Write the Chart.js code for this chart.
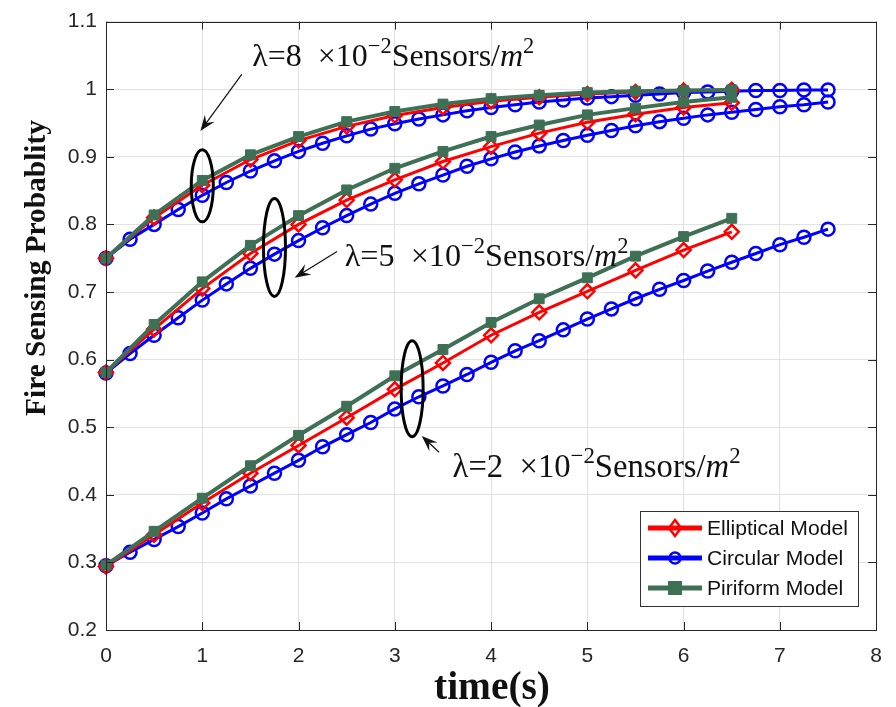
<!DOCTYPE html>
<html>
<head>
<meta charset="utf-8">
<script src="https://cdn.jsdelivr.net/npm/chart.js@4.4.0/dist/chart.umd.min.js"></script>
<style>
  body { margin: 0; background: #fff; }
  canvas { display: block; }
</style>
</head>
<body>
<canvas id="fireChart" width="896" height="707"></canvas>
<script>
// time axes
const tHalf = [0, 0.5, 1, 1.5, 2, 2.5, 3, 3.5, 4, 4.5, 5, 5.5, 6, 6.5];
const tQuarter = [0, 0.25, 0.5, 0.75, 1, 1.25, 1.5, 1.75, 2, 2.25, 2.5, 2.75, 3, 3.25, 3.5, 3.75,
  4, 4.25, 4.5, 4.75, 5, 5.25, 5.5, 5.75, 6, 6.25, 6.5, 6.75, 7, 7.25, 7.5];

// lambda = 8
const ellip8 = [0.750, 0.810, 0.858, 0.896, 0.924, 0.945, 0.961, 0.973, 0.982, 0.988, 0.993, 0.996, 0.998, 0.999];
const pir8 = [0.750, 0.814, 0.865, 0.903, 0.930, 0.952, 0.967, 0.978, 0.986, 0.991, 0.995, 0.997, 0.998, 0.999];
const circ8 = [0.750, 0.778, 0.800, 0.822, 0.843, 0.862, 0.879, 0.894, 0.908, 0.920, 0.931, 0.941, 0.949, 0.956, 0.962, 0.968,
  0.973, 0.977, 0.981, 0.984, 0.987, 0.989, 0.991, 0.993, 0.995, 0.996, 0.997, 0.998, 0.998, 0.999, 0.999];

// lambda = 5
const ellip5 = [0.581, 0.645, 0.705, 0.757, 0.800, 0.836, 0.866, 0.893, 0.915, 0.935, 0.951, 0.963, 0.973, 0.980];
const pir5 = [0.581, 0.652, 0.715, 0.769, 0.813, 0.851, 0.883, 0.908, 0.930, 0.947, 0.962, 0.972, 0.981, 0.988];
const circ5 = [0.580, 0.609, 0.636, 0.662, 0.688, 0.712, 0.735, 0.756, 0.776, 0.795, 0.813, 0.830, 0.846, 0.860, 0.873, 0.886,
  0.897, 0.907, 0.916, 0.924, 0.932, 0.939, 0.946, 0.952, 0.957, 0.962, 0.966, 0.970, 0.974, 0.977, 0.981];

// lambda = 2
const ellip2 = [0.294, 0.341, 0.388, 0.432, 0.473, 0.514, 0.556, 0.595, 0.636, 0.670, 0.701, 0.732, 0.762, 0.789];
const pir2 = [0.296, 0.346, 0.395, 0.443, 0.488, 0.531, 0.576, 0.615, 0.655, 0.690, 0.721, 0.753, 0.782, 0.809];
const circ2 = [0.295, 0.315, 0.334, 0.353, 0.373, 0.394, 0.413, 0.432, 0.451, 0.471, 0.489, 0.507, 0.527, 0.545, 0.561, 0.578,
  0.596, 0.613, 0.628, 0.644, 0.660, 0.675, 0.690, 0.704, 0.717, 0.731, 0.744, 0.757, 0.770, 0.781, 0.793];

const xTicks = [0, 1, 2, 3, 4, 5, 6, 7, 8];
const xTickLabels = ['0', '1', '2', '3', '4', '5', '6', '7', '8'];
const yTicks = [0.2, 0.3, 0.4, 0.5, 0.6, 0.7, 0.8, 0.9, 1.0, 1.1];
const yTickLabels = ['0.2', '0.3', '0.4', '0.5', '0.6', '0.7', '0.8', '0.9', '1', '1.1'];

const legendNames = ['Elliptical Model', 'Circular Model', 'Piriform Model'];
const lambdas = ['8', '5', '2'];

const RED = '#ff0000';
const BLUE = '#0000ff';
const GREEN = '#3e7056';

function pts(xs, ys) {
  return xs.map((x, i) => ({ x: x, y: ys[i] }));
}

function ellipSet(ys) {
  return {
    label: legendNames[0], data: pts(tHalf, ys), order: 1, clip: false,
    borderColor: RED, borderWidth: 3, pointStyle: 'rectRot', pointRadius: 7,
    pointBorderColor: RED, pointBorderWidth: 2.5, pointBackgroundColor: 'rgba(255,255,255,0)'
  };
}
function circSet(ys) {
  return {
    label: legendNames[1], data: pts(tQuarter, ys), order: 2, clip: false,
    borderColor: BLUE, borderWidth: 3, pointStyle: 'circle', pointRadius: 6.5,
    pointBorderColor: BLUE, pointBorderWidth: 2.5, pointBackgroundColor: 'rgba(255,255,255,0)'
  };
}
function pirSet(ys) {
  return {
    label: legendNames[2], data: pts(tHalf, ys), order: 0, clip: false,
    borderColor: GREEN, borderWidth: 4, pointStyle: 'rect', pointRadius: 7,
    pointBorderColor: GREEN, pointBorderWidth: 1, pointBackgroundColor: GREEN
  };
}

// fit a font size so that text reaches a target width
function fitSize(ctx, text, fontTpl, target) {
  ctx.font = fontTpl.replace('SIZE', 40);
  return 40 * target / ctx.measureText(text).width;
}

// lambda label with superscripts
function mathLabel(ctx, left, base, lam, targetW) {
  const parts = [
    { t: '\u03bb=' + lam + '  \u00d710', st: '', sup: false },
    { t: '\u22122', st: '', sup: true },
    { t: 'Sensors/', st: '', sup: false },
    { t: 'm', st: 'italic ', sup: false },
    { t: '2', st: '', sup: true }
  ];
  const fam = '"Liberation Serif", "DejaVu Serif", serif';
  function widthAt(s) {
    let w = 0;
    for (const p of parts) {
      ctx.font = p.st + (p.sup ? s * 0.7 : s) + 'px ' + fam;
      w += ctx.measureText(p.t).width;
    }
    return w;
  }
  const size = 24 * targetW / widthAt(24);
  let x = left;
  ctx.fillStyle = '#111';
  ctx.textAlign = 'left';
  ctx.textBaseline = 'alphabetic';
  for (const p of parts) {
    const s = p.sup ? size * 0.7 : size;
    ctx.font = p.st + s + 'px ' + fam;
    ctx.fillText(p.t, x, p.sup ? base - size * 0.4 : base);
    x += ctx.measureText(p.t).width;
  }
}

function arrow(ctx, x1, y1, x2, y2) {
  const ang = Math.atan2(y2 - y1, x2 - x1);
  const L = 16, W = 6;
  ctx.strokeStyle = '#111';
  ctx.lineWidth = 1.2;
  ctx.beginPath();
  ctx.moveTo(x1, y1);
  ctx.lineTo(x2 - Math.cos(ang) * 8, y2 - Math.sin(ang) * 8);
  ctx.stroke();
  ctx.fillStyle = '#111';
  ctx.beginPath();
  ctx.moveTo(x2, y2);
  ctx.lineTo(x2 - L * Math.cos(ang) + W * Math.sin(ang), y2 - L * Math.sin(ang) - W * Math.cos(ang));
  ctx.lineTo(x2 - 10 * Math.cos(ang), y2 - 10 * Math.sin(ang));
  ctx.lineTo(x2 - L * Math.cos(ang) - W * Math.sin(ang), y2 - L * Math.sin(ang) + W * Math.cos(ang));
  ctx.closePath();
  ctx.fill();
}

const decor = {
  id: 'decor',
  afterDraw(chart) {
    const ctx = chart.ctx;
    const xs = chart.scales.x, ys = chart.scales.y;
    const a = chart.chartArea;
    const px = v => xs.getPixelForValue(v);
    const py = v => ys.getPixelForValue(v);
    ctx.save();

    // box and inward ticks
    ctx.strokeStyle = '#262626';
    ctx.lineWidth = 1;
    ctx.strokeRect(Math.round(a.left) + 0.5, Math.round(a.top) + 0.5,
      Math.round(a.right - a.left), Math.round(a.bottom - a.top));
    ctx.beginPath();
    for (const v of xTicks) {
      const x = Math.round(px(v)) + 0.5;
      ctx.moveTo(x, a.bottom); ctx.lineTo(x, a.bottom - 8);
      ctx.moveTo(x, a.top); ctx.lineTo(x, a.top + 8);
    }
    for (const v of yTicks) {
      const y = Math.round(py(v)) + 0.5;
      ctx.moveTo(a.left, y); ctx.lineTo(a.left + 8, y);
      ctx.moveTo(a.right, y); ctx.lineTo(a.right - 8, y);
    }
    ctx.stroke();

    // axis titles
    const bold = 'bold SIZEpx "Liberation Serif", "DejaVu Serif", serif';
    ctx.fillStyle = '#111';
    ctx.textAlign = 'center';
    ctx.textBaseline = 'middle';
    let s = fitSize(ctx, 'time(s)', bold, 116);
    ctx.font = bold.replace('SIZE', s);
    ctx.fillText('time(s)', 492, 689);
    ctx.save();
    ctx.translate(37, 268);
    ctx.rotate(-Math.PI / 2);
    s = fitSize(ctx, 'Fire Sensing Probablity', bold, 296);
    ctx.font = bold.replace('SIZE', s);
    ctx.fillText('Fire Sensing Probablity', 0, 0);
    ctx.restore();

    // ellipses around the curve groups
    ctx.strokeStyle = '#000';
    ctx.lineWidth = 3;
    const ells = [[1.0, 0.857, 11, 36], [1.75, 0.766, 11, 49], [3.18, 0.557, 11, 48]];
    for (const e of ells) {
      ctx.beginPath();
      ctx.ellipse(px(e[0]), py(e[1]), e[2], e[3], 0, 0, Math.PI * 2);
      ctx.stroke();
    }

    // arrows
    arrow(ctx, px(1.41), py(1.022), px(0.98), py(0.938));
    arrow(ctx, px(2.40), py(0.760), px(1.96), py(0.721));
    arrow(ctx, px(3.46), py(0.463), px(3.28), py(0.487));

    // lambda labels
    mathLabel(ctx, px(1.52), py(1.034), lambdas[0], 282);
    mathLabel(ctx, px(2.48), py(0.738), lambdas[1], 284);
    mathLabel(ctx, px(3.60), py(0.427), lambdas[2], 288);

    // legend box
    const lx = 640, ly = 511, lw = 218, lh = 95;
    ctx.fillStyle = '#fff';
    ctx.fillRect(lx, ly, lw, lh);
    ctx.strokeStyle = '#333';
    ctx.lineWidth = 1;
    ctx.strokeRect(lx + 0.5, ly + 0.5, lw, lh);
    const cols = [RED, BLUE, GREEN];
    const rows = [528, 558, 588];
    const lf = 'SIZEpx "Liberation Sans", Arial, sans-serif';
    const fs = fitSize(ctx, legendNames[0], lf, 141);
    for (let i = 0; i < 3; i++) {
      const y = rows[i];
      ctx.strokeStyle = cols[i];
      ctx.lineWidth = 5;
      ctx.beginPath();
      ctx.moveTo(648, y); ctx.lineTo(702, y);
      ctx.stroke();
      ctx.lineWidth = 2.5;
      ctx.fillStyle = cols[i];
      if (i === 0) {
        ctx.beginPath();
        ctx.moveTo(675, y - 8); ctx.lineTo(681, y); ctx.lineTo(675, y + 8); ctx.lineTo(669, y);
        ctx.closePath();
        ctx.stroke();
      } else if (i === 1) {
        ctx.beginPath();
        ctx.arc(675, y, 5.5, 0, Math.PI * 2);
        ctx.stroke();
      } else {
        ctx.fillRect(668, y - 7, 14, 14);
      }
      ctx.fillStyle = '#111';
      ctx.font = lf.replace('SIZE', fs);
      ctx.textAlign = 'left';
      ctx.textBaseline = 'middle';
      ctx.fillText(legendNames[i], 707, y + 1);
    }
    ctx.restore();
  }
};

const ctx = document.getElementById('fireChart').getContext('2d');
new Chart(ctx, {
  type: 'line',
  data: {
    datasets: [
      pirSet(pir8), ellipSet(ellip8), circSet(circ8),
      pirSet(pir5), ellipSet(ellip5), circSet(circ5),
      pirSet(pir2), ellipSet(ellip2), circSet(circ2)
    ]
  },
  options: {
    responsive: false,
    animation: false,
    layout: { padding: { left: 0, right: 15, top: 17, bottom: 0 } },
    elements: { line: { tension: 0 } },
    plugins: { legend: { display: false }, tooltip: { enabled: false } },
    scales: {
      x: {
        type: 'linear', min: 0, max: 8,
        afterBuildTicks: s => { s.ticks = xTicks.map(v => ({ value: v })); },
        afterFit: s => { s.height = 77; },
        grid: { color: '#e2e2e2', drawTicks: false },
        border: { display: false },
        ticks: {
          padding: 14, color: '#262626',
          font: { family: '"Liberation Sans", Arial, sans-serif', size: 21 },
          callback: v => xTickLabels[xTicks.indexOf(v)]
        }
      },
      y: {
        type: 'linear', min: 0.2, max: 1.1,
        afterBuildTicks: s => { s.ticks = yTicks.map(v => ({ value: v })); },
        afterFit: s => { s.width = 106; },
        grid: { color: '#e2e2e2', drawTicks: false },
        border: { display: false },
        ticks: {
          padding: 9, color: '#262626',
          font: { family: '"Liberation Sans", Arial, sans-serif', size: 21 },
          callback: (v, i) => yTickLabels[i]
        }
      }
    }
  },
  plugins: [decor]
});
</script>
</body>
</html>
